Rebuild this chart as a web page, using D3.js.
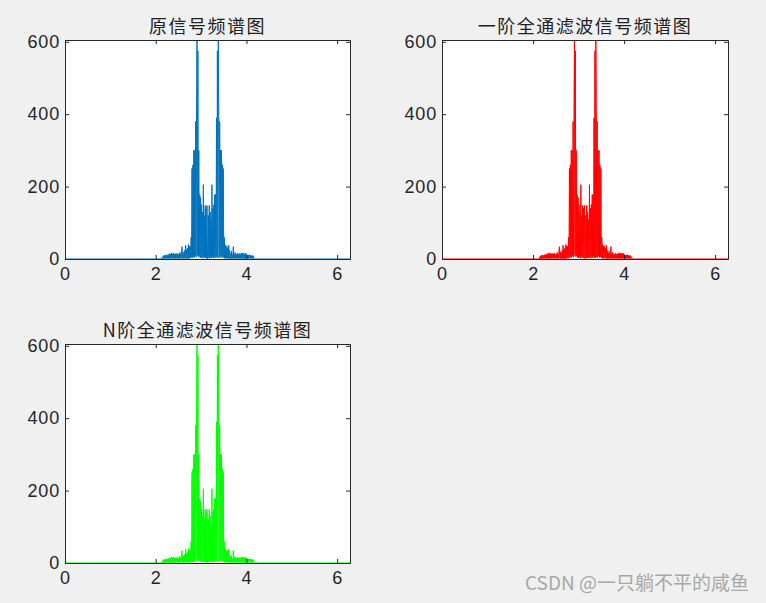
<!DOCTYPE html>
<html><head><meta charset="utf-8">
<script src="https://cdn.jsdelivr.net/npm/d3@7"></script>
<style>body{margin:0;background:#f0f0f0;overflow:hidden}</style>
</head><body>
<svg id="c" width="766" height="603"></svg>
<script>
// ---- data ----
const panelTitles = ["原信号频谱图", "一阶全通滤波信号频谱图", "N阶全通滤波信号频谱图"];
const lineColors = ["#0072BD", "#FF0000", "#00FF00"];
const xTicks = [0, 2, 4, 6];
const yTicks = [0, 200, 400, 600];
const xMax = 6.2832;   // 2*pi
const yMax = 605;
// spectrum band sampled from 2.10 to 4.20 in steps of 0.01 (zero elsewhere)
const bandStart = 2.10, bandStep = 0.01;
const magOriginal = [
  0,1,0,1,0,6,1,9,2,10,
  1,11,2,9,1,12,2,10,1,13,
  2,15,1,13,2,17,1,14,2,16,
  1,14,2,15,1,13,2,16,1,12,
  2,14,1,18,2,15,1,22,34,2,
  20,1,16,2,24,1,38,2,26,1,
  30,2,40,1,36,3,35,2,60,5,
  250,3,260,6,300,4,300,8,380,5,
  410,605,10,575,6,300,8,178,4,170,
  3,150,5,130,2,205,6,120,3,148,
  4,140,2,148,1,2,120,3,148,2,
  130,4,110,3,205,5,140,2,150,6,
  178,3,178,7,390,4,575,3,605,410,
  5,380,4,300,8,300,4,260,6,250,
  3,60,2,40,1,36,3,35,2,30,
  1,38,2,24,1,16,2,22,1,12,
  2,34,1,15,2,18,1,14,2,12,
  1,16,2,13,1,15,2,14,1,17,
  2,15,1,17,2,14,1,15,2,16,
  1,12,2,10,1,11,2,12,1,10,
  2,9,1,10,2,8,1,2,0,1,
  0
];
// all-pass filtering keeps the magnitude spectrum
const magFirstOrder = magOriginal;
const magNthOrder = magOriginal;
const seriesList = [magOriginal, magFirstOrder, magNthOrder];

// ---- layout ----
const panels = [
  {x0: 65, x1: 350, y0: 40, y1: 259, ty: 33},
  {x0: 442, x1: 728, y0: 40, y1: 259, ty: 33},
  {x0: 65, x1: 350, y0: 344, y1: 563, ty: 337}
];
const svg = d3.select("#c");
const axisColor = "#262626";

panels.forEach((p, k) => {
  const x = d3.scaleLinear().domain([0, xMax]).range([p.x0, p.x1]);
  const y = d3.scaleLinear().domain([0, yMax]).range([p.y1, p.y0]);
  const g = svg.append("g");
  g.append("rect").attr("x", p.x0).attr("y", p.y0).attr("width", p.x1 - p.x0).attr("height", p.y1 - p.y0).attr("fill", "#fff");

  const clipId = "clip" + k;
  g.append("clipPath").attr("id", clipId).append("rect")
    .attr("x", p.x0).attr("y", p.y0).attr("width", p.x1 - p.x0).attr("height", p.y1 - p.y0 + 2);

  const mags = seriesList[k];
  const pts = [[0, 0]].concat(mags.map((m, i) => [bandStart + i * bandStep, m]), [[xMax, 0]]);
  const line = d3.line().x(d => x(d[0])).y(d => y(d[1]));
  g.append("path").attr("d", line(pts)).attr("fill", "none")
    .attr("stroke", lineColors[k]).attr("stroke-width", 1).attr("clip-path", `url(#${clipId})`);

  // axes (box with inward ticks)
  const bottom = g.append("g").attr("transform", `translate(0,${p.y1})`)
    .call(d3.axisBottom(x).tickValues(xTicks).tickSizeInner(-4).tickSizeOuter(0).tickPadding(8).tickFormat(d3.format("d")));
  const top = g.append("g").attr("transform", `translate(0,${p.y0})`)
    .call(d3.axisTop(x).tickValues(xTicks).tickSizeInner(-4).tickSizeOuter(0).tickFormat(""));
  const left = g.append("g").attr("transform", `translate(${p.x0},0)`)
    .call(d3.axisLeft(y).tickValues(yTicks).tickSizeInner(-4).tickSizeOuter(0).tickPadding(5).tickFormat(d3.format("d")));
  const right = g.append("g").attr("transform", `translate(${p.x1},0)`)
    .call(d3.axisRight(y).tickValues(yTicks).tickSizeInner(-4).tickSizeOuter(0).tickFormat(""));
  [bottom, top, left, right].forEach(a => {
    a.select(".domain").attr("stroke", axisColor).attr("stroke-width", 1);
    a.selectAll(".tick line").attr("stroke", axisColor);
    a.selectAll("text").attr("fill", axisColor).style("font-family", "'Liberation Sans', Arial, sans-serif")
      .style("font-size", "18px").style("letter-spacing", "0.8px");
  });

  g.append("text").attr("x", (p.x0 + p.x1) / 2).attr("y", p.ty).attr("text-anchor", "middle")
    .attr("fill", "#222").style("font-family", "'Noto Sans CJK SC', sans-serif").style("font-size", "18px")
    .style("letter-spacing", "1.5px").text(panelTitles[k]);
});

svg.append("text").attr("x", 749).attr("y", 590).attr("text-anchor", "end")
  .attr("fill", "#a8a8a8").style("font-family", "'Noto Sans CJK SC', sans-serif").style("font-size", "19px")
  .text("CSDN @一只躺不平的咸鱼");
</script>
</body></html>
